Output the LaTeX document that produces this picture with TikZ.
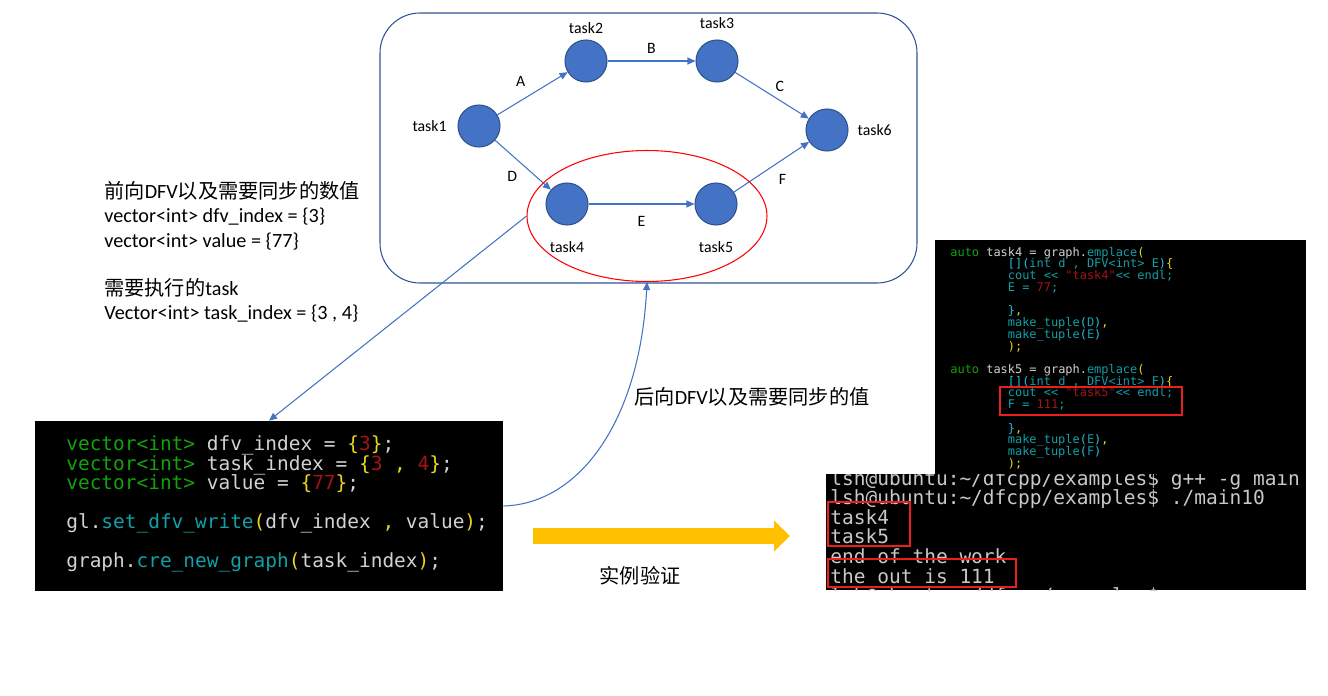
\documentclass[tikz,border=0pt]{standalone}
\usepackage{fontspec}
\setmainfont{Carlito}
\setmonofont{DejaVu Sans Mono}
\newfontfamily\cjk{Noto Sans CJK SC}
\usepackage{xcolor}
\usetikzlibrary{positioning,shapes.geometric,arrows.meta}

\definecolor{nodeblue}{HTML}{4472C4}
\definecolor{nodeline}{HTML}{2F528F}
\definecolor{boxline}{HTML}{2F5597}
\definecolor{arrowyellow}{HTML}{FFC000}
\definecolor{redmark}{RGB}{235,30,30}
\definecolor{cgreen}{RGB}{19,161,14}
\definecolor{cteal}{RGB}{17,160,165}
\definecolor{ccyan}{RGB}{40,190,220}
\definecolor{cyel}{RGB}{230,215,30}
\definecolor{cred}{RGB}{165,20,20}
\definecolor{cfg}{RGB}{210,210,210}
\definecolor{tgray}{RGB}{200,200,200}

% code colouring
\newcommand{\kw}[1]{\textcolor{cgreen}{#1}}
\newcommand{\fn}[1]{\textcolor{cteal}{#1}}
\newcommand{\cy}[1]{\textcolor{ccyan}{#1}}
\newcommand{\nr}[1]{\textcolor{cred}{#1}}
\newcommand{\yb}[1]{\textcolor{cyel}{#1}}
\newcommand{\ind}{\hspace*{4.816em}}
\newcommand{\tight}{\lineskiplimit=-100pt\lineskip=0pt}

\tikzset{
  task/.style={circle, fill=nodeblue, draw=nodeline, line width=0.6pt, minimum size=0.84cm, inner sep=0pt},
  lbl/.style={font=\fontsize{9}{10}\selectfont, inner sep=1pt},
  flow/.style={draw=nodeblue, line width=0.6pt, -{Triangle[length=0.16cm,width=0.14cm]}},
  note/.style={font=\fontsize{11.5}{13.8}\selectfont, align=left, inner sep=0pt},
  blackbox/.style={fill=black, inner sep=0pt},
  codetxt/.style={font=\ttfamily\fontsize{11.07}{11.06}\selectfont\tight, text=cfg, align=left, inner sep=0pt, anchor=west},
  srctxt/.style={font=\ttfamily\fontsize{6.8}{6.68}\selectfont\tight, text=cfg, align=left, inner sep=0pt, anchor=west},
  termtxt/.style={font=\ttfamily\fontsize{11.1}{11.17}\selectfont\tight, text=tgray, align=left, inner sep=0pt, anchor=west},
  redbox/.style={draw=redmark, line width=1.6pt},
  bigarrow/.style={arrowyellow, line width=0.32cm, -{Triangle[length=0.32cm,width=0.6cm]}}
}

\begin{document}
\begin{tikzpicture}[x=0.02cm, y=-0.02cm]
\useasboundingbox (0,0) rectangle (1328,696);
\fill[white] (0,0) rectangle (1328,696);

% the task graph
\draw[boxline, line width=0.6pt, rounded corners=0.8cm] (380,13) rectangle (917,283);
\node[task] (t1) at (479,126) {};
\node[task] (t2) at (586,61) {};
\node[task] (t3) at (717,61) {};
\node[task] (t4) at (567,204) {};
\node[task] (t5) at (716,204) {};
\node[task] (t6) at (827,130) {};
\node[lbl, left=5pt of t1] (l1) {task1};
\node[lbl, above=2pt of t2] (l2) {task2};
\node[lbl, above=5pt of t3] (l3) {task3};
\node[lbl, below=8pt of t4] (l4) {task4};
\node[lbl, below=8pt of t5] (l5) {task5};
\node[lbl, right=4pt of t6] (l6) {task6};
\draw[flow] (t1) -- node[lbl, above left=4pt] {A} (t2);
\draw[flow] (t2) -- node[lbl, above=3pt] {B} (t3);
\draw[flow] (t3) -- node[lbl, above right=1pt] {C} (t6);
\draw[flow] (t1) -- node[lbl, below left=3pt] {D} (t4);
\draw[flow] (t4) -- node[lbl, below=6pt] {E} (t5);
\draw[flow] (t5) -- node[lbl, below right=4pt] {F} (t6);
\node[ellipse, draw=red, line width=0.6pt, minimum width=4.8cm, minimum height=2.62cm, inner sep=0pt] (grp) at (647,216) {};

% notes
\node[note, anchor=west] (fwd) at (104,252) {{\cjk 前向}DFV{\cjk 以及需要同步的数值}\\
vector<int> dfv\_index = \{3\}\\
vector<int> value = \{77\}\\[13.8pt]
{\cjk 需要执行的}task\\
Vector<int> task\_index = \{3 , 4\}};
\node[note, anchor=west] (bwd) at (634,397) {{\cjk 后向}DFV{\cjk 以及需要同步的值}};
\node[note] (check) at (640,576) {\cjk 实例验证};

% code snippet
\node[blackbox, minimum width=9.36cm, minimum height=3.4cm] (code) at (269,506) {};
\node[codetxt] (codelines) at (66,504) {\kw{vector<int>} dfv\_index = \yb{\{}\nr{3}\yb{\}};\\
\kw{vector<int>} task\_index = \yb{\{}\nr{3} \yb{,} \nr{4}\yb{\}};\\
\kw{vector<int>} value = \yb{\{}\nr{77}\yb{\}};\\[11.06pt]
gl.\fn{set\_dfv\_write}\yb{(}dfv\_index \yb{,} value\yb{)};\\[11.06pt]
graph.\fn{cre\_new\_graph}\yb{(}task\_index\yb{)};};

% source screenshot
\node[blackbox, minimum width=7.42cm, minimum height=4.72cm] (src) at (1120.5,358) {};
\node[srctxt] (srclines) at (950,358) {\kw{auto} task4 = graph.\fn{emplace}\yb{(}\\
\ind\cy{[](}\fn{int d , DFV<int> E}\cy{)}\yb{\{}\\
\ind\fn{cout << }\nr{"task4"}\fn{<< endl;}\\
\ind\fn{E = }\nr{77}\fn{;}\\[6.68pt]
\ind\cy{\}}\yb{,}\\
\ind\fn{make\_tuple}\cy{(}\fn{D}\cy{)}\yb{,}\\
\ind\fn{make\_tuple}\cy{(}\fn{E}\cy{)}\\
\ind\yb{);}\\[6.68pt]
\kw{auto} task5 = graph.\fn{emplace}\yb{(}\\
\ind\cy{[](}\fn{int d , DFV<int> F}\cy{)}\yb{\{}\\
\ind\fn{cout << }\nr{"task5"}\fn{<< endl;}\\
\ind\fn{F = }\nr{111}\fn{;}\\[6.68pt]
\ind\cy{\}}\yb{,}\\
\ind\fn{make\_tuple}\cy{(}\fn{E}\cy{)}\yb{,}\\
\ind\fn{make\_tuple}\cy{(}\fn{F}\cy{)}\\
\ind\yb{);}};
\draw[redbox] (1000,387) rectangle (1182,415);

% terminal output
\node[blackbox, minimum width=9.6cm, minimum height=2.32cm] (term) at (1066,532) {};
\begin{scope}
\clip (826,474) rectangle (1306,590);
\node[termtxt] (termlines) at (830,538.5) {lsh@ubuntu:\textasciitilde/dfcpp/examples\$ g++ -g main\\
lsh@ubuntu:\textasciitilde/dfcpp/examples\$ ./main10\\
task4\\
task5\\
end of the work\\
the out is 111\\
lsh@ubuntu:\textasciitilde/dfcpp/examples\$};
\end{scope}
\draw[redbox] (828,502) rectangle (910,546);
\draw[redbox] (828,559) rectangle (1016,587);

% connectors
\draw[flow] (grp.west) -- (code.north);
\draw[flow] (code.east) .. controls (580,504) and (640,420) .. (grp.south);
\coordinate (ys) at (533,536);
\coordinate (ye) at (790,536);
\draw[bigarrow] (ys) -- (ye);
\end{tikzpicture}
\end{document}
